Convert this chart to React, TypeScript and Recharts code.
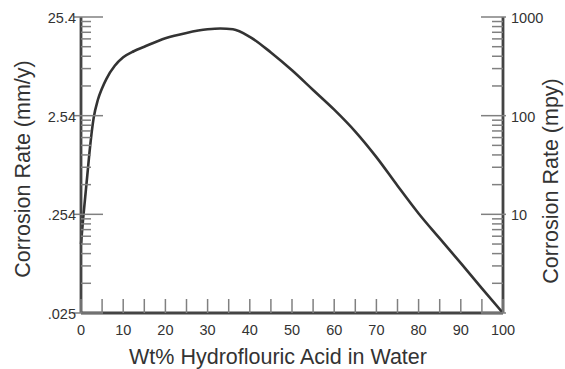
import React from 'react';
import { LineChart, Line, XAxis, YAxis } from 'recharts';

// HF concentration (wt%) vs corrosion rate (mpy)
const hfPercent = [0, 0.5, 1, 1.5, 2, 3, 4, 5, 6, 8, 10, 12.5, 15, 20, 25, 30, 33, 36, 40, 45, 50, 55, 60, 65, 70, 75, 80, 85, 90, 95, 100];
const rateMpy = [5, 9, 15, 25, 42, 95, 145, 190, 235, 320, 390, 450, 500, 610, 690, 750, 765, 750, 630, 437, 288, 182, 115, 69, 38, 19.5, 10.2, 5.7, 3.2, 1.78, 1];

const xTicks = [0, 5, 10, 15, 20, 25, 30, 35, 40, 45, 50, 55, 60, 65, 70, 75, 80, 85, 90, 95, 100];

const leftMajors = [0.0254, 0.254, 2.54, 25.4];
const leftTickLabels = ['.025', '.254', '2.54', '25.4'];
const rightMajors = [1, 10, 100, 1000];
const rightTickLabels = ['', '10', '100', '1000'];
const minorSteps = [2, 3, 4, 5, 6, 7, 8, 9];

const withMinors = (majors: number[]) => {
  const out: number[] = [];
  majors.forEach((m, i) => {
    out.push(m);
    if (i < majors.length - 1) minorSteps.forEach((k) => out.push(m * k));
  });
  return out;
};

const chartData = hfPercent.map((pct, i) => ({ pct, mpy: rateMpy[i] }));

const FONT = '"Liberation Sans", Arial, Helvetica, sans-serif';
const TICK_COLOR = '#808080';
const TEXT_COLOR = '#333';
const FRAME = { stroke: '#444', strokeWidth: 2.8 };
const TICK_FONT = 14.5;

const LeftTick = (props: any) => {
  const { x, y, payload } = props;
  const idx = leftMajors.indexOf(payload.value);
  const major = idx >= 0;
  return (
    <g>
      <line x1={major ? x - 7 : x} x2={x + (major ? 22 : 10)} y1={y} y2={y} stroke={TICK_COLOR} strokeWidth={1.5} />
      {major && (
        <text x={x - 5} y={y} dy={6} textAnchor="end" fontSize={TICK_FONT} fontFamily={FONT} fill={TEXT_COLOR}>
          {leftTickLabels[idx]}
        </text>
      )}
    </g>
  );
};

const RightTick = (props: any) => {
  const { x, y, payload } = props;
  const idx = rightMajors.indexOf(payload.value);
  const major = idx >= 0;
  return (
    <g>
      <line x1={x - (major ? 22 : 11)} x2={major ? x + 3 : x} y1={y} y2={y} stroke={TICK_COLOR} strokeWidth={1.5} />
      {major && (
        <text x={x + 8} y={y} dy={6} textAnchor="start" fontSize={TICK_FONT} fontFamily={FONT} fill={TEXT_COLOR}>
          {rightTickLabels[idx]}
        </text>
      )}
    </g>
  );
};

const BottomTick = (props: any) => {
  const { x, y, payload } = props;
  const labelled = payload.value % 10 === 0;
  return (
    <g>
      <line x1={x} x2={x} y1={y - 14} y2={y} stroke={TICK_COLOR} strokeWidth={1.5} />
      {labelled && (
        <text x={x} y={y + 22} textAnchor="middle" fontSize={TICK_FONT} fontFamily={FONT} fill={TEXT_COLOR}>
          {payload.value}
        </text>
      )}
    </g>
  );
};

const TopTick = (props: any) => {
  const { x, y } = props;
  return <line x1={x} x2={x} y1={y} y2={y + 14} stroke={TICK_COLOR} strokeWidth={1.5} />;
};

const titleStyle = { fontSize: 21.5, fontFamily: FONT, fill: TEXT_COLOR };

export default function App() {
  return (
    <div style={{ position: 'absolute', left: 0, top: 0, width: 565, height: 369, background: '#fff' }}>
      <LineChart width={565} height={369} data={chartData} margin={{ top: 17, right: 0, bottom: 0, left: 0 }}>
        <XAxis
          xAxisId="bottom"
          dataKey="pct"
          type="number"
          domain={[0, 100]}
          ticks={xTicks}
          interval={0}
          tickSize={0}
          tickMargin={0}
          tickLine={false}
          axisLine={FRAME}
          tick={<BottomTick />}
          height={56}
          label={(p: any) => {
            const vb = p.viewBox;
            return (
              <text x={vb.x + vb.width / 2 - 14} y={vb.y + vb.height - 5} textAnchor="middle" {...titleStyle}>
                Wt% Hydroflouric Acid in Water
              </text>
            );
          }}
        />
        <XAxis
          xAxisId="top"
          orientation="top"
          type="number"
          domain={[0, 100]}
          ticks={xTicks}
          interval={0}
          tickSize={0}
          tickMargin={0}
          tickLine={false}
          axisLine={FRAME}
          tick={<TopTick />}
          height={0}
        />
        <YAxis
          yAxisId="left"
          scale="log"
          type="number"
          domain={[0.0254, 25.4]}
          allowDataOverflow
          ticks={withMinors(leftMajors)}
          interval={0}
          tickSize={0}
          tickMargin={0}
          tickLine={false}
          axisLine={FRAME}
          tick={<LeftTick />}
          width={81}
          label={(p: any) => {
            const vb = p.viewBox;
            const cx = vb.x + 22;
            const cy = vb.y + vb.height / 2 + 4;
            return (
              <text x={cx} y={cy} dy={8} textAnchor="middle" transform={`rotate(-90 ${cx} ${cy})`} {...titleStyle}>
                Corrosion Rate (mm/y)
              </text>
            );
          }}
        />
        <YAxis
          yAxisId="right"
          orientation="right"
          scale="log"
          type="number"
          domain={[1, 1000]}
          allowDataOverflow
          ticks={withMinors(rightMajors)}
          interval={0}
          tickSize={0}
          tickMargin={0}
          tickLine={false}
          axisLine={FRAME}
          tick={<RightTick />}
          width={62}
          label={(p: any) => {
            const vb = p.viewBox;
            const cx = vb.x + 47;
            const cy = vb.y + vb.height / 2 + 16;
            return (
              <text x={cx} y={cy} dy={8} textAnchor="middle" transform={`rotate(-90 ${cx} ${cy})`} {...titleStyle}>
                Corrosion Rate (mpy)
              </text>
            );
          }}
        />
        <Line
          xAxisId="bottom"
          yAxisId="right"
          type="monotone"
          dataKey="mpy"
          stroke="#333"
          strokeWidth={2.6}
          dot={false}
          isAnimationActive={false}
        />
      </LineChart>
    </div>
  );
}
